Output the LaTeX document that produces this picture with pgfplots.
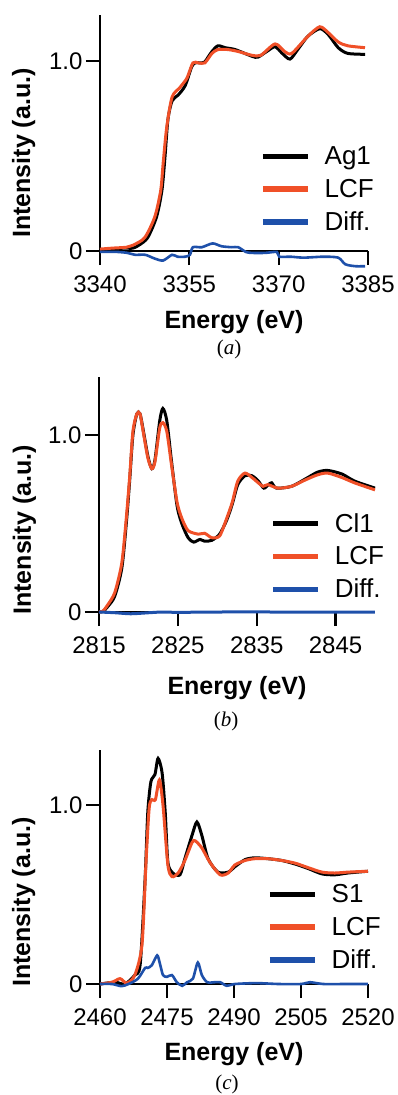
\documentclass[border=0pt]{standalone}
\usepackage{pgfplots}
\pgfplotsset{compat=1.18}
\usepackage{fontspec}
\setmainfont{Liberation Sans}
\newfontfamily\timesfont{Liberation Serif}
\definecolor{lcfred}{RGB}{240,80,40}
\definecolor{diffblue}{RGB}{30,80,170}
\pgfplotsset{
  xas/.style={
    scale only axis,
    axis x line*=bottom, axis y line*=left,
    axis line style={line width=2.4pt,black},
    clip=false,
    ymin=0,
    tick align=outside,
    every tick/.style={line width=2.2pt,black},
    major tick length=14pt,
    ytick={0,1}, yticklabels={0,1.0},
    tick label style={font=\fontsize{24}{28}\selectfont},
    xticklabel style={yshift=-7pt},
    xlabel={Energy (eV)}, ylabel={Intensity (a.u.)},
    label style={font=\bfseries\fontsize{25}{30}\selectfont},
    legend cell align=left,
    legend image code/.code={\draw[line width=5.5pt,##1] (0pt,0pt) -- (45pt,0pt);},
    legend style={draw=none, fill=none, inner sep=0pt, anchor=north west,
      font=\fontsize{26}{30}\selectfont, row sep=9pt,
      /tikz/every odd column/.style={column sep=12pt}},
    every axis plot/.append style={smooth, tension=0.45, line width=3pt},
  },
  sblack/.style={black},
  sred/.style={lcfred},
  sblue/.style={diffblue, line width=2.6pt},
}
\begin{document}
\begin{tikzpicture}
\path[use as bounding box] (0,0) rectangle (398pt,-1095pt);
% ---------------- (a) ----------------
\begin{axis}[xas, at={(100pt,-251pt)}, anchor=south west,
  width=268pt, height=236pt,
  xmin=3340, xmax=3385, ymax=1.242,
  xtick={3340,3355,3370,3385}, xticklabels={3340,3355,3370,3385},
  xlabel style={at={(axis description cs:0.5,-0.30)}, anchor=center},
  ylabel style={at={(axis description cs:-0.285,0.415)}, anchor=center},
  legend style={at={(axis description cs:0.597,0.45)}},
]
\addplot[sblack] coordinates {
(3340,0.005) (3342,0.01) (3344,0.015) (3345.5,0.015) (3346.5,0.03) (3348,0.07)
(3349.5,0.18) (3350.4,0.32) (3350.9,0.49) (3351.4,0.69) (3352.1,0.79) (3353.1,0.82)
(3354.3,0.87) (3355.4,0.97) (3356,0.99) (3357.1,0.99) (3357.6,0.995) (3358.8,1.05)
(3359.8,1.08) (3361.0,1.07) (3362.7,1.06) (3365.5,1.025) (3366.5,1.02) (3368.0,1.05)
(3369.4,1.075) (3370.6,1.04) (3371.9,1.01) (3373.2,1.06) (3374.9,1.13) (3376.9,1.17)
(3378.3,1.14) (3380.0,1.07) (3381.6,1.04) (3384.5,1.035)};
\addlegendentry{Ag1}
\addplot[sred] coordinates {
(3340,0.01) (3342,0.015) (3344.5,0.02) (3345.5,0.03) (3347.5,0.07) (3349.2,0.18)
(3350.2,0.32) (3350.6,0.46) (3351.2,0.65) (3352.1,0.81) (3353.4,0.86) (3354.6,0.91)
(3355.6,0.99) (3356.5,0.99) (3357.6,0.99) (3358.8,1.04) (3359.8,1.06) (3361.5,1.06)
(3363.2,1.05) (3365.5,1.03) (3367,1.03) (3369.4,1.09) (3371.0,1.05) (3372.2,1.04)
(3374.9,1.13) (3376.9,1.18) (3378.3,1.15) (3380.0,1.10) (3381.6,1.08) (3384.5,1.07)};
\addlegendentry{LCF}
\addplot[sblue] coordinates {
(3340,-0.005) (3343,-0.005) (3344.6,-0.01) (3345.9,-0.02) (3347.6,-0.02) (3349.2,-0.04)
(3350.6,-0.05) (3352.1,-0.02) (3353.0,-0.03) (3354.3,-0.03) (3355.1,-0.02) (3355.6,0.02)
(3357.1,0.02) (3358.9,0.04) (3360.4,0.025) (3362.1,0.02) (3363.2,0.02) (3364.5,-0.005)
(3365.5,-0.01) (3367.7,-0.01) (3369.7,-0.005) (3370.1,-0.03) (3372.0,-0.03) (3374.2,-0.035)
(3377.5,-0.03) (3380.0,-0.035) (3381.2,-0.07) (3382.9,-0.08) (3384.5,-0.08)};
\addlegendentry{Diff.}
\end{axis}
% ---------------- (b) ----------------
\begin{axis}[xas, at={(99pt,-612pt)}, anchor=south west,
  width=276pt, height=235pt,
  xmin=2815, xmax=2850, ymax=1.328,
  xtick={2815,2825,2835,2845}, xticklabels={2815,2825,2835,2845},
  xlabel style={at={(axis description cs:0.5,-0.325)}, anchor=center},
  ylabel style={at={(axis description cs:-0.27,0.349)}, anchor=center},
  legend style={at={(axis description cs:0.62,0.43)}},
]
\addplot[sblack] coordinates {
(2815,0) (2815.5,0.003) (2816.1,0.03) (2817.0,0.09) (2817.9,0.25) (2818.5,0.52)
(2818.9,0.75) (2819.3,1.0) (2819.8,1.12) (2820.2,1.12) (2820.6,1.03) (2821.2,0.88)
(2821.7,0.81) (2822.1,0.86) (2822.7,1.08) (2823.1,1.15) (2823.6,1.08) (2824.2,0.85)
(2824.9,0.60) (2825.5,0.50) (2826.3,0.42) (2827.0,0.395) (2827.8,0.41) (2828.4,0.40)
(2829.3,0.405) (2830.3,0.44) (2831.2,0.52) (2831.9,0.61) (2832.6,0.72) (2833.5,0.77)
(2834.4,0.77) (2835.2,0.74) (2835.9,0.70) (2836.5,0.72) (2836.9,0.73) (2837.5,0.70)
(2839.4,0.71) (2841.1,0.75) (2842.7,0.79) (2844.0,0.80) (2845.8,0.78) (2847.4,0.74)
(2850,0.70)};
\addlegendentry{Cl1}
\addplot[sred] coordinates {
(2815,0) (2815.5,0.005) (2816.1,0.04) (2817.0,0.11) (2817.9,0.28) (2818.5,0.55)
(2818.9,0.77) (2819.3,1.02) (2819.8,1.12) (2820.2,1.12) (2820.6,1.02) (2821.2,0.87)
(2821.7,0.81) (2822.1,0.85) (2822.7,1.04) (2823.1,1.07) (2823.6,1.02) (2824.2,0.83)
(2824.9,0.62) (2825.5,0.53) (2826.3,0.46) (2827.6,0.44) (2828.4,0.445) (2829.3,0.42)
(2830.3,0.43) (2831.2,0.53) (2831.9,0.62) (2832.6,0.74) (2833.5,0.785) (2834.4,0.76)
(2835.2,0.73) (2835.8,0.71) (2836.4,0.72) (2837.7,0.70) (2839.4,0.71) (2841.1,0.745)
(2842.7,0.775) (2844.0,0.785) (2845.8,0.76) (2847.4,0.73) (2850,0.69)};
\addlegendentry{LCF}
\addplot[sblue, line width=3pt] coordinates {
(2815,0) (2817,-0.004) (2819,-0.01) (2821,-0.005) (2823,0) (2825,-0.002) (2830,0)
(2840,0) (2850,0)};
\addlegendentry{Diff.}
\end{axis}
% ---------------- (c) ----------------
\begin{axis}[xas, at={(100pt,-984pt)}, anchor=south west,
  width=268pt, height=234pt,
  xmin=2460, xmax=2520, ymax=1.307,
  xtick={2460,2475,2490,2505,2520}, xticklabels={2460,2475,2490,2505,2520},
  xlabel style={at={(axis description cs:0.5,-0.30)}, anchor=center},
  ylabel style={at={(axis description cs:-0.285,0.35)}, anchor=center},
  legend style={at={(axis description cs:0.623,0.435)}},
]
\addplot[sblack] coordinates {
(2460,0.0) (2463.4,0.01) (2465.6,0.0) (2467.8,0.05) (2469.0,0.11) (2470.1,0.59)
(2470.7,0.96) (2471.4,1.13) (2472.3,1.17) (2473.0,1.26) (2473.9,1.18) (2474.6,0.96)
(2475.2,0.68) (2476.3,0.62) (2477.9,0.61) (2479.0,0.70) (2480.6,0.83) (2481.7,0.905)
(2482.8,0.83) (2484.2,0.70) (2486.4,0.625) (2488.7,0.625) (2490.2,0.655) (2492.5,0.695)
(2494.7,0.705) (2497.6,0.70) (2500.7,0.69) (2503.7,0.67) (2506.6,0.645) (2509.7,0.615)
(2512.6,0.61) (2515.5,0.62) (2520,0.63)};
\addlegendentry{S1}
\addplot[sred] coordinates {
(2460,0.0) (2462.7,0.01) (2464.5,0.03) (2466.0,0.005) (2467.8,0.05) (2469.4,0.22)
(2470.3,0.68) (2471.0,0.98) (2471.6,1.03) (2472.4,1.03) (2473.3,1.14) (2474.1,1.0)
(2475.2,0.665) (2476.1,0.60) (2477.5,0.62) (2479.0,0.69) (2480.6,0.79) (2481.3,0.80)
(2482.8,0.76) (2484.6,0.68) (2486.9,0.61) (2488.7,0.62) (2490.2,0.665) (2492.5,0.69)
(2494.7,0.70) (2497.6,0.70) (2500.7,0.69) (2503.7,0.675) (2506.6,0.65) (2509.7,0.625)
(2512.6,0.62) (2515.5,0.625) (2520,0.63)};
\addlegendentry{LCF}
\addplot[sblue] coordinates {
(2460,0) (2462.7,0) (2464.8,-0.012) (2466.4,0.0) (2468.5,0.03) (2470.1,0.09)
(2470.7,0.09) (2471.6,0.105) (2472.8,0.16) (2473.4,0.115) (2474.1,0.05) (2475.0,0.04)
(2476.1,0.05) (2477.2,0.01) (2478.4,-0.01) (2479.5,0.01) (2480.8,0.03) (2481.9,0.12)
(2482.8,0.05) (2484.0,0.01) (2485.7,0.01) (2486.9,0.01) (2488.4,-0.01) (2490.2,0.0)
(2495,0.005) (2500,0.0) (2505,0.0) (2507,0.01) (2510,0.0) (2515,0.0) (2520,0.0)};
\addlegendentry{Diff.}
\end{axis}
\node[font=\timesfont\fontsize{21}{25}\selectfont] at (229pt,-349pt) {(\textit{a})};
\node[font=\timesfont\fontsize{21}{25}\selectfont] at (226pt,-721pt) {(\textit{b})};
\node[font=\timesfont\fontsize{21}{25}\selectfont] at (227pt,-1084pt) {(\textit{c})};
\end{tikzpicture}
\end{document}
